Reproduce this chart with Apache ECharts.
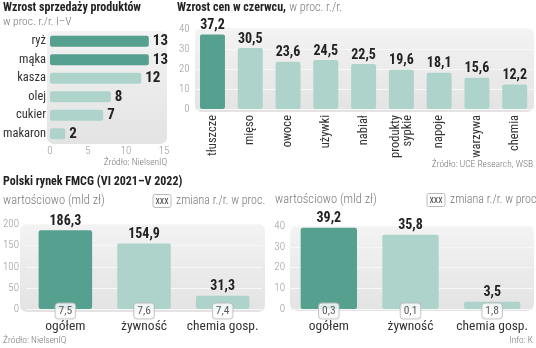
<!DOCTYPE html>
<html><head><meta charset="utf-8">
<script src="https://cdn.jsdelivr.net/npm/echarts@6/dist/echarts.min.js"></script>
<style>html,body{margin:0;padding:0;background:#fff}#c{width:536px;height:348px}</style>
</head><body><div id="c"></div>
<script>
const salesCats = ['ryż','mąka','kasza','olej','cukier','makaron'];
const salesValues = [13,13,12,8,7,2];
const priceCats = ['tłuszcze','mięso','owoce','używki','nabiał','produkty\nsypkie','napoje','warzywa','chemia'];
const priceValues = [37.2,30.5,23.6,24.5,22.5,19.6,18.1,15.6,12.2];
const fmcgCats = ['ogółem','żywność','chemia gosp.'];
const fmcgValueA = [186.3,154.9,31.3];
const fmcgChangeA = [7.5,7.6,7.4];
const fmcgValueB = [39.2,35.8,3.5];
const fmcgChangeB = [0.3,0.1,1.8];

const FONT = "'Roboto Condensed',sans-serif";
const DARK = '#56a08f', LIGHT = '#add3cb';
const fmt = v => String(v).replace('.', ',');
const col = n => (p) => p.dataIndex < n ? DARK : LIGHT;
const panelFill = {type:'linear',x:0,y:0,x2:0,y2:1,colorStops:[{offset:0,color:'#f3f3f3'},{offset:1,color:'#e3e3e3'}]};

const chart = echarts.init(document.getElementById('c'), null, {renderer:'canvas'});
const tickLbl = {color:'#9a9a9a', fontSize:11, fontFamily:FONT, fontWeight:300};
const split = {show:true, lineStyle:{color:'#f7f7f7', width:1}};

function panel(x,y,w,h){return {type:'rect', z:-10, shape:{x,y,width:w,height:h,r:7}, style:{fill:panelFill}};}
function txt(x,y,t,style){return {type:'text', z:5, x, y, style:Object.assign({text:t, fontFamily:FONT, fill:'#333', fontSize:11}, style)};}
function legendBox(x,y){return [
  {type:'rect', z:5, shape:{x:x,y:y-6.5,width:18,height:13,r:2}, style:{fill:'#fff', stroke:'#bbb', lineWidth:1}},
  txt(x+9,y,'xxx',{fontSize:10,fill:'#444',align:'center',verticalAlign:'middle'}),
  txt(x+23,y,'zmiana r./r. w proc.',{fontSize:12,fill:'#777',fontWeight:300,verticalAlign:'middle'})
];}

const option = {
  animation:false,
  textStyle:{fontFamily:FONT},
  graphic:[
    panel(47,31,120,113), panel(195,28,339,84), panel(20,224,245,88), panel(290,226,244,85),
    txt(3,8,'Wzrost sprzedaży produktów',{fontSize:12,fontWeight:'bold',fill:'#222',verticalAlign:'middle'}),
    txt(3,22,'w proc. r./r. I–V',{fontSize:11.5,fill:'#777',fontWeight:300,verticalAlign:'middle'}),
    txt(167,163,'Źródło: NielsenIQ',{fontSize:9.5,fill:'#777',fontWeight:300,align:'right',verticalAlign:'middle'}),
    {type:'text', z:5, x:177, y:8, style:{text:'{b|Wzrost cen w czerwcu,} {n|w proc. r./r.}', verticalAlign:'middle', rich:{b:{fontFamily:FONT,fontSize:12,fontWeight:'bold',fill:'#222'}, n:{fontFamily:FONT,fontSize:12,fontWeight:300,fill:'#777'}}}},
    txt(533,165,'Źródło: UCE Research, WSB',{fontSize:9.5,fill:'#777',fontWeight:300,align:'right',verticalAlign:'middle'}),
    txt(3,182,'Polski rynek FMCG (VI 2021–V 2022)',{fontSize:12,fontWeight:'bold',fill:'#222',verticalAlign:'middle'}),
    txt(3,201,'wartościowo (mld zł)',{fontSize:12.5,fill:'#777',fontWeight:300,verticalAlign:'middle'}),
    txt(275,200,'wartościowo (mld zł)',{fontSize:12.5,fill:'#777',fontWeight:300,verticalAlign:'middle'}),
    ...legendBox(153,201), ...legendBox(427,200),
    txt(3,341,'Źródło: NielsenIQ',{fontSize:9.5,fill:'#777',fontWeight:300,verticalAlign:'middle'}),
    txt(533,341,'Info: K',{fontSize:9.5,fill:'#777',fontWeight:300,align:'right',verticalAlign:'middle'})
  ],
  grid:[
    {left:47, top:32, width:117, height:111},
    {left:193.6, top:29, width:340, height:80},
    {left:20, top:224.5, width:242, height:84.5},
    {left:288, top:226, width:245, height:83}
  ],
  xAxis:[
    {gridIndex:0, type:'value', min:0, max:15, interval:5, axisLine:{show:false}, axisTick:{show:false}, splitLine:{show:false}, axisLabel:Object.assign({margin:3},tickLbl)},
    {gridIndex:1, type:'category', data:priceCats, axisLine:{show:false}, axisTick:{show:false}, axisLabel:{rotate:90, margin:6, fontSize:12.5, color:'#333', fontFamily:FONT, lineHeight:12, interval:0}},
    {gridIndex:2, type:'category', data:fmcgCats, axisLine:{show:false}, axisTick:{show:false}, axisLabel:{margin:11, fontSize:13.5, color:'#333', fontFamily:FONT, interval:0}},
    {gridIndex:3, type:'category', data:fmcgCats, axisLine:{show:false}, axisTick:{show:false}, axisLabel:{margin:11, fontSize:13.5, color:'#333', fontFamily:FONT, interval:0}}
  ],
  yAxis:[
    {gridIndex:0, type:'category', data:salesCats, inverse:true, axisLine:{show:false}, axisTick:{show:false}, axisLabel:{margin:4, fontSize:12.5, color:'#333', fontFamily:FONT}},
    {gridIndex:1, type:'value', min:0, max:40, interval:10, axisLine:{show:false}, axisTick:{show:false}, splitLine:split, axisLabel:Object.assign({margin:4},tickLbl)},
    {gridIndex:2, type:'value', min:0, max:200, interval:50, axisLine:{show:false}, axisTick:{show:false}, splitLine:split, axisLabel:Object.assign({margin:7},tickLbl)},
    {gridIndex:3, type:'value', min:0, max:40, interval:10, axisLine:{show:false}, axisTick:{show:false}, splitLine:split, axisLabel:Object.assign({margin:3},tickLbl)}
  ],
  series:[
    {type:'bar', xAxisIndex:0, yAxisIndex:0, data:salesValues, barCategoryGap:'40%', itemStyle:{color:col(2), borderRadius:2},
      label:{show:true, position:'right', distance:4, formatter:p=>fmt(p.value), fontSize:15, fontWeight:'bold', color:'#222', fontFamily:FONT}},
    {type:'bar', xAxisIndex:1, yAxisIndex:1, data:priceValues, barCategoryGap:'34%', itemStyle:{color:col(1), borderRadius:2},
      label:{show:true, position:'top', distance:2, formatter:p=>fmt(p.value), fontSize:14, fontWeight:'bold', color:'#222', fontFamily:FONT}},
    {type:'bar', xAxisIndex:2, yAxisIndex:2, data:fmcgValueA, barCategoryGap:'32%', itemStyle:{color:col(1), borderRadius:2},
      label:{show:true, position:'top', distance:2, formatter:p=>fmt(p.value), fontSize:14, fontWeight:'bold', color:'#222', fontFamily:FONT}},
    {type:'bar', xAxisIndex:3, yAxisIndex:3, data:fmcgValueB, barCategoryGap:'31%', itemStyle:{color:col(1), borderRadius:2},
      label:{show:true, position:'top', distance:2, formatter:p=>fmt(p.value), fontSize:14, fontWeight:'bold', color:'#222', fontFamily:FONT}},
    {type:'scatter', xAxisIndex:2, yAxisIndex:2, data:fmcgChangeA.map(()=>0), symbolSize:1, itemStyle:{color:'rgba(0,0,0,0)'}, z:5,
      label:{show:true, position:'inside', offset:[0,2], formatter:p=>fmt(fmcgChangeA[p.dataIndex]), backgroundColor:'#fff', borderColor:'#bbb', borderWidth:1, borderRadius:3, padding:[2,3,1,3], fontSize:11.5, color:'#333', fontFamily:FONT}},
    {type:'scatter', xAxisIndex:3, yAxisIndex:3, data:fmcgChangeB.map(()=>0), symbolSize:1, itemStyle:{color:'rgba(0,0,0,0)'}, z:5,
      label:{show:true, position:'inside', offset:[0,2], formatter:p=>fmt(fmcgChangeB[p.dataIndex]), backgroundColor:'#fff', borderColor:'#bbb', borderWidth:1, borderRadius:3, padding:[2,3,1,3], fontSize:11.5, color:'#333', fontFamily:FONT}}
  ]
};
chart.setOption(option);
</script></body></html>
